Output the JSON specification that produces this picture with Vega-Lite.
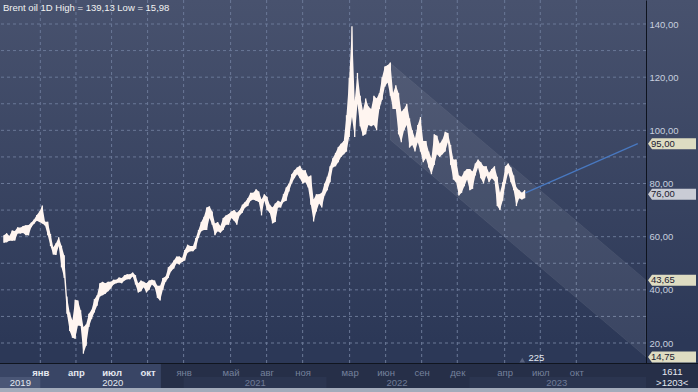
{
"$schema":"https://vega.github.io/schema/vega-lite/v6.json",
"width":646,"height":363,
"autosize":{"type":"none"},
"padding":{"left":0,"top":0,"right":52,"bottom":29},
"background":"#262f48",
"config":{"view":{"stroke":null},"font":"Liberation Sans","text":{"font":"Liberation Sans"}},
"datasets":{
"bg":[{"d1":"2019-09-10","d2":"2024-08-15","v1":12.48,"v2":149.03}],
"strip":[
{"d1":"2019-09-10","d2":"2020-11-04","v1":12.48,"v2":3.07,"k":"hl"},
{"d1":"2019-09-10","d2":"2020-01-01","v1":7.21,"v2":3.07,"k":"y1"},
{"d1":"2021-01-01","d2":"2022-01-01","v1":7.21,"v2":3.07,"k":"y2"},
{"d1":"2023-01-01","d2":"2024-03-27","v1":7.21,"v2":3.07,"k":"y2"},
{"d1":"2019-09-10","d2":"2024-08-15","v1":3.07,"v2":1.0,"k":"bd"},
{"d1":"2019-09-10","d2":"2024-08-15","v1":12.48,"v2":12.1,"k":"ln"}],
"gx":[{"d":"2020-01-01"},{"d":"2020-04-01"},{"d":"2020-07-01"},{"d":"2020-10-01"},{"d":"2021-01-01"},{"d":"2021-05-01"},{"d":"2021-08-01"},{"d":"2021-11-01"},{"d":"2022-03-01"},{"d":"2022-06-01"},{"d":"2022-09-01"},{"d":"2022-12-01"},{"d":"2023-04-01"},{"d":"2023-07-01"},{"d":"2023-10-01"}],
"gy":[{"v":20},{"v":30},{"v":40},{"v":50},{"v":60},{"v":70},{"v":80},{"v":90},{"v":100},{"v":110},{"v":120},{"v":130},{"v":140}],
"ch":[{"d":"2022-06-13","up":125.3,"dn":96.4},{"d":"2024-03-27","up":43.65,"dn":14.75}],
"proj":[{"d":"2023-05-24","v":76.5},{"d":"2024-03-06","v":95}],
"tags":[{"v":95,"lab":"95,00","k":"y"},{"v":76,"lab":"76,00","k":"g"},{"v":43.65,"lab":"43,65","k":"y"},{"v":14.75,"lab":"14,75","k":"y"}],
"title":[{"lab":"Brent oil 1D High = 139,13 Low = 15,98"}],
"lbl":[
{"d":"2019-11-11","v":4.96,"lab":"2019","k":"w"},
{"d":"2020-07-04","v":4.96,"lab":"2020","k":"w"},
{"d":"2021-07-03","v":4.96,"lab":"2021","k":"g"},
{"d":"2022-06-30","v":4.96,"lab":"2022","k":"g"},
{"d":"2023-08-12","v":4.96,"lab":"2023","k":"g"},
{"d":"2023-06-21","v":14.3,"lab":"225","k":"w"},
{"d":"2024-06-02","v":9.09,"lab":"1611","k":"w"},
{"d":"2024-06-02","v":4.96,"lab":">1203<","k":"w"}],
"tri":[{"d":"2023-05-16","v":13.6}],
"px":[
{"d":"2019-09-30","lo":57.7,"hi":60.5},{"d":"2019-10-07","lo":57.9,"hi":61.3},{"d":"2019-10-14","lo":58.5,"hi":60.3},{"d":"2019-10-21","lo":58.5,"hi":62.3},{"d":"2019-10-28","lo":58.6,"hi":62.1},{"d":"2019-11-04","lo":61.2,"hi":63.5},{"d":"2019-11-11","lo":61.2,"hi":63.4},{"d":"2019-11-18","lo":61.4,"hi":64.0},{"d":"2019-11-25","lo":60.5,"hi":64.3},{"d":"2019-12-02","lo":60.5,"hi":64.4},{"d":"2019-12-09","lo":63.5,"hi":65.3},{"d":"2019-12-16","lo":64.9,"hi":66.5},{"d":"2019-12-23","lo":66.0,"hi":68.2},{"d":"2019-12-30","lo":65.5,"hi":69.5},
{"d":"2020-01-06","lo":65.0,"hi":71.75},{"d":"2020-01-13","lo":64.2,"hi":65.6},{"d":"2020-01-20","lo":60.5,"hi":65.6},{"d":"2020-01-27","lo":56.5,"hi":61.0},{"d":"2020-02-03","lo":53.3,"hi":56.0},{"d":"2020-02-10","lo":53.1,"hi":57.5},{"d":"2020-02-17","lo":56.5,"hi":59.8},{"d":"2020-02-24","lo":48.5,"hi":56.6},{"d":"2020-03-02","lo":44.5,"hi":53.0},{"d":"2020-03-09","lo":31.0,"hi":37.5},{"d":"2020-03-16","lo":24.5,"hi":31.5},{"d":"2020-03-23","lo":22.0,"hi":28.5},{"d":"2020-03-30","lo":21.6,"hi":36.3},{"d":"2020-04-06","lo":26.6,"hi":36.0},{"d":"2020-04-13","lo":26.4,"hi":32.3},{"d":"2020-04-20","lo":15.98,"hi":26.0},{"d":"2020-04-27","lo":19.0,"hi":27.0},{"d":"2020-05-04","lo":26.0,"hi":31.0},{"d":"2020-05-11","lo":29.0,"hi":32.5},{"d":"2020-05-18","lo":31.5,"hi":36.5},{"d":"2020-05-25","lo":34.0,"hi":38.0},{"d":"2020-06-01","lo":37.5,"hi":42.5},{"d":"2020-06-08","lo":38.0,"hi":43.0},{"d":"2020-06-15","lo":38.5,"hi":42.5},{"d":"2020-06-22","lo":39.5,"hi":43.0},{"d":"2020-06-29","lo":40.5,"hi":43.0},{"d":"2020-07-06","lo":42.0,"hi":43.8},{"d":"2020-07-13","lo":42.5,"hi":43.8},{"d":"2020-07-20","lo":42.8,"hi":44.6},{"d":"2020-07-27","lo":42.5,"hi":44.5},{"d":"2020-08-03","lo":43.5,"hi":45.5},{"d":"2020-08-10","lo":44.0,"hi":45.9},{"d":"2020-08-17","lo":44.0,"hi":45.9},{"d":"2020-08-24","lo":45.0,"hi":46.5},{"d":"2020-08-31","lo":42.0,"hi":45.5},{"d":"2020-09-07","lo":39.0,"hi":42.5},{"d":"2020-09-14","lo":39.5,"hi":43.5},{"d":"2020-09-21","lo":41.0,"hi":43.0},{"d":"2020-09-28","lo":39.0,"hi":42.5},{"d":"2020-10-05","lo":40.0,"hi":43.5},{"d":"2020-10-12","lo":42.0,"hi":43.8},{"d":"2020-10-19","lo":41.0,"hi":43.5},{"d":"2020-10-26","lo":37.0,"hi":41.5},{"d":"2020-11-02","lo":36.0,"hi":41.5},{"d":"2020-11-09","lo":40.0,"hi":44.5},{"d":"2020-11-16","lo":43.0,"hi":45.0},{"d":"2020-11-23","lo":44.5,"hi":48.5},{"d":"2020-11-30","lo":47.0,"hi":49.5},{"d":"2020-12-07","lo":48.0,"hi":51.0},{"d":"2020-12-14","lo":50.0,"hi":52.5},{"d":"2020-12-21","lo":49.5,"hi":52.5},{"d":"2020-12-28","lo":50.5,"hi":52.0},
{"d":"2021-01-04","lo":51.0,"hi":55.0},{"d":"2021-01-11","lo":54.0,"hi":57.0},{"d":"2021-01-18","lo":54.5,"hi":56.5},{"d":"2021-01-25","lo":54.5,"hi":56.5},{"d":"2021-02-01","lo":55.5,"hi":59.5},{"d":"2021-02-08","lo":59.5,"hi":62.5},{"d":"2021-02-15","lo":62.0,"hi":65.5},{"d":"2021-02-22","lo":62.5,"hi":67.5},{"d":"2021-03-01","lo":62.5,"hi":71.0},{"d":"2021-03-08","lo":67.0,"hi":71.4},{"d":"2021-03-15","lo":64.5,"hi":69.5},{"d":"2021-03-22","lo":60.5,"hi":65.0},{"d":"2021-03-29","lo":62.0,"hi":65.5},{"d":"2021-04-05","lo":61.5,"hi":64.0},{"d":"2021-04-12","lo":62.5,"hi":67.0},{"d":"2021-04-19","lo":64.5,"hi":68.0},{"d":"2021-04-26","lo":64.5,"hi":68.5},{"d":"2021-05-03","lo":67.0,"hi":69.5},{"d":"2021-05-10","lo":66.0,"hi":70.0},{"d":"2021-05-17","lo":64.5,"hi":69.0},{"d":"2021-05-24","lo":68.0,"hi":70.0},{"d":"2021-05-31","lo":69.0,"hi":72.0},{"d":"2021-06-07","lo":71.0,"hi":73.0},{"d":"2021-06-14","lo":71.5,"hi":74.5},{"d":"2021-06-21","lo":73.5,"hi":76.5},{"d":"2021-06-28","lo":74.0,"hi":76.5},{"d":"2021-07-05","lo":73.5,"hi":77.8},{"d":"2021-07-12","lo":73.0,"hi":77.0},{"d":"2021-07-19","lo":68.0,"hi":74.0},{"d":"2021-07-26","lo":73.5,"hi":76.0},{"d":"2021-08-02","lo":70.0,"hi":75.0},{"d":"2021-08-09","lo":69.0,"hi":72.0},{"d":"2021-08-16","lo":65.0,"hi":71.0},{"d":"2021-08-23","lo":65.5,"hi":72.5},{"d":"2021-08-30","lo":71.0,"hi":73.5},{"d":"2021-09-06","lo":71.0,"hi":73.0},{"d":"2021-09-13","lo":73.0,"hi":76.0},{"d":"2021-09-20","lo":73.5,"hi":78.5},{"d":"2021-09-27","lo":77.0,"hi":80.0},{"d":"2021-10-04","lo":80.0,"hi":83.5},{"d":"2021-10-11","lo":82.0,"hi":85.0},{"d":"2021-10-18","lo":83.5,"hi":86.0},{"d":"2021-10-25","lo":82.0,"hi":86.7},{"d":"2021-11-01","lo":80.0,"hi":85.0},{"d":"2021-11-08","lo":80.5,"hi":85.0},{"d":"2021-11-15","lo":78.5,"hi":82.5},{"d":"2021-11-22","lo":72.0,"hi":83.0},{"d":"2021-11-29","lo":65.7,"hi":74.0},{"d":"2021-12-06","lo":69.5,"hi":76.0},{"d":"2021-12-13","lo":72.5,"hi":76.0},{"d":"2021-12-20","lo":71.0,"hi":76.5},{"d":"2021-12-27","lo":75.5,"hi":80.0},
{"d":"2022-01-03","lo":77.5,"hi":82.5},{"d":"2022-01-10","lo":80.5,"hi":86.5},{"d":"2022-01-17","lo":86.0,"hi":89.5},{"d":"2022-01-24","lo":86.5,"hi":91.5},{"d":"2022-01-31","lo":88.0,"hi":93.7},{"d":"2022-02-07","lo":90.0,"hi":95.0},{"d":"2022-02-14","lo":91.0,"hi":96.0},{"d":"2022-02-21","lo":92.0,"hi":105.7},{"d":"2022-02-28","lo":97.5,"hi":119.8},{"d":"2022-03-07","lo":105.0,"hi":139.13},{"d":"2022-03-14","lo":97.5,"hi":111.0},{"d":"2022-03-21","lo":110.0,"hi":121.6},{"d":"2022-03-28","lo":101.5,"hi":113.0},{"d":"2022-04-04","lo":98.0,"hi":107.5},{"d":"2022-04-11","lo":98.5,"hi":112.0},{"d":"2022-04-18","lo":102.0,"hi":109.0},{"d":"2022-04-25","lo":101.5,"hi":108.0},{"d":"2022-05-02","lo":102.0,"hi":113.0},{"d":"2022-05-09","lo":100.0,"hi":112.0},{"d":"2022-05-16","lo":108.0,"hi":114.0},{"d":"2022-05-23","lo":111.5,"hi":120.0},{"d":"2022-05-30","lo":116.5,"hi":124.0},{"d":"2022-06-06","lo":118.0,"hi":124.5},{"d":"2022-06-13","lo":113.0,"hi":125.5},{"d":"2022-06-20","lo":108.0,"hi":114.0},{"d":"2022-06-27","lo":108.0,"hi":117.0},{"d":"2022-07-04","lo":98.5,"hi":114.0},{"d":"2022-07-11","lo":95.5,"hi":107.0},{"d":"2022-07-18","lo":100.0,"hi":108.0},{"d":"2022-07-25","lo":102.0,"hi":110.0},{"d":"2022-08-01","lo":93.5,"hi":104.5},{"d":"2022-08-08","lo":94.5,"hi":100.0},{"d":"2022-08-15","lo":92.0,"hi":97.0},{"d":"2022-08-22","lo":95.5,"hi":102.0},{"d":"2022-08-29","lo":92.0,"hi":105.0},{"d":"2022-09-05","lo":88.0,"hi":96.0},{"d":"2022-09-12","lo":89.5,"hi":96.0},{"d":"2022-09-19","lo":86.0,"hi":92.0},{"d":"2022-09-26","lo":83.5,"hi":89.5},{"d":"2022-10-03","lo":87.0,"hi":98.5},{"d":"2022-10-10","lo":91.0,"hi":98.0},{"d":"2022-10-17","lo":90.0,"hi":95.0},{"d":"2022-10-24","lo":91.0,"hi":96.5},{"d":"2022-10-31","lo":92.0,"hi":99.5},{"d":"2022-11-07","lo":95.5,"hi":99.0},{"d":"2022-11-14","lo":87.0,"hi":94.5},{"d":"2022-11-21","lo":81.5,"hi":89.0},{"d":"2022-11-28","lo":80.5,"hi":89.0},{"d":"2022-12-05","lo":75.5,"hi":83.0},{"d":"2022-12-12","lo":76.5,"hi":82.5},{"d":"2022-12-19","lo":79.0,"hi":84.5},{"d":"2022-12-26","lo":81.5,"hi":85.5},
{"d":"2023-01-02","lo":77.5,"hi":85.5},{"d":"2023-01-09","lo":78.0,"hi":84.5},{"d":"2023-01-16","lo":83.0,"hi":87.5},{"d":"2023-01-23","lo":86.0,"hi":89.0},{"d":"2023-01-30","lo":82.0,"hi":88.0},{"d":"2023-02-06","lo":80.0,"hi":86.5},{"d":"2023-02-13","lo":83.0,"hi":86.5},{"d":"2023-02-20","lo":80.5,"hi":84.0},{"d":"2023-02-27","lo":82.0,"hi":85.5},{"d":"2023-03-06","lo":81.0,"hi":86.5},{"d":"2023-03-13","lo":71.5,"hi":82.5},{"d":"2023-03-20","lo":70.0,"hi":76.5},{"d":"2023-03-27","lo":73.5,"hi":80.5},{"d":"2023-04-03","lo":80.0,"hi":86.5},{"d":"2023-04-10","lo":84.0,"hi":87.5},{"d":"2023-04-17","lo":80.5,"hi":86.0},{"d":"2023-04-24","lo":77.5,"hi":83.0},{"d":"2023-05-01","lo":71.5,"hi":78.5},{"d":"2023-05-08","lo":74.5,"hi":77.5},{"d":"2023-05-15","lo":74.0,"hi":76.5},{"d":"2023-05-22","lo":74.5,"hi":77.5}]
},
"resolve":{"scale":{"color":"independent"}},
"layer":[
{"data":{"name":"bg"},
 "mark":{"type":"rect","clip":false,"fill":{"gradient":"linear","x1":0,"y1":0,"x2":0,"y2":1,"stops":[{"offset":0,"color":"#48526e"},{"offset":0.94,"color":"#2c3857"},{"offset":1,"color":"#2c3857"}]}},
 "encoding":{
  "x":{"field":"d1","type":"temporal","title":null,"scale":{"type":"utc","nice":false,
    "domain":[{"year":2019,"month":9,"date":20,"utc":true},{"year":2024,"month":3,"date":27,"utc":true}]}},
  "x2":{"field":"d2"},
  "y":{"field":"v1","type":"quantitative","title":null,"scale":{"domain":[12.48,149.03],"nice":false,"zero":false}},
  "y2":{"field":"v2"}}},
{"data":{"name":"strip"},
 "mark":{"type":"rect","clip":false},
 "encoding":{
  "x":{"field":"d1","type":"temporal","title":null},
  "x2":{"field":"d2"},
  "y":{"field":"v1","type":"quantitative","title":null},
  "y2":{"field":"v2"},
  "color":{"field":"k","type":"nominal","legend":null,"scale":{"domain":["hl","y1","y2","bd","ln"],"range":["#394565","#4a5676","#2b3550","#a3abbb","#10151f"]}}}},
{"data":{"name":"gx"},
 "mark":{"type":"rule","color":"#6a7897","strokeWidth":1,"strokeDash":[3,3]},
 "encoding":{"x":{"field":"d","type":"temporal","title":null}}},
{"data":{"name":"gy"},
 "mark":{"type":"rule","color":"#6a7897","strokeWidth":1,"strokeDash":[3,3]},
 "encoding":{"y":{"field":"v","type":"quantitative","title":null}}},
{"data":{"name":"ch"},
 "mark":{"type":"area","fill":"#ffffff","fillOpacity":0.075,"stroke":"#ffffff","strokeOpacity":0.06,"strokeWidth":1,"clip":true},
 "encoding":{"x":{"field":"d","type":"temporal","title":null},"y":{"field":"up","type":"quantitative","title":null},"y2":{"field":"dn"}}},
{"data":{"name":"px"},
 "mark":{"type":"area","color":"#fff5f0","opacity":1,"clip":true},
 "encoding":{"x":{"field":"d","type":"temporal","title":null},"y":{"field":"lo","type":"quantitative","title":null},"y2":{"field":"hi"}}},
{"data":{"name":"px"},
 "mark":{"type":"rule","color":"#fff5f0","strokeWidth":1.3,"clip":true},
 "encoding":{
  "x":{"field":"d","type":"temporal","title":null,"axis":{"title":null,"orient":"bottom","zindex":1,"grid":false,"ticks":false,"tickSize":0,"domain":false,"labelPadding":9,"labelBaseline":"middle","labelFontSize":9.5,"labelFont":"Liberation Sans","labelOverlap":false,"labelFlush":false,
    "values":[{"year":2020,"month":1,"date":1,"utc":true},{"year":2020,"month":4,"date":1,"utc":true},{"year":2020,"month":7,"date":1,"utc":true},{"year":2020,"month":10,"date":1,"utc":true},{"year":2021,"month":1,"date":1,"utc":true},{"year":2021,"month":5,"date":1,"utc":true},{"year":2021,"month":8,"date":1,"utc":true},{"year":2021,"month":11,"date":1,"utc":true},{"year":2022,"month":3,"date":1,"utc":true},{"year":2022,"month":6,"date":1,"utc":true},{"year":2022,"month":9,"date":1,"utc":true},{"year":2022,"month":12,"date":1,"utc":true},{"year":2023,"month":4,"date":1,"utc":true},{"year":2023,"month":7,"date":1,"utc":true},{"year":2023,"month":10,"date":1,"utc":true}],
    "labelExpr":"['янв','фев','мар','апр','май','июн','июл','авг','сен','окт','ноя','дек'][utcmonth(datum.value)]",
    "labelColor":{"condition":{"test":"utcyear(datum.value) < 2021","value":"#e4e8f0"},"value":"#75819c"},
    "labelFontWeight":{"condition":{"test":"utcyear(datum.value) < 2021","value":"bold"},"value":"normal"}}},
  "y":{"field":"lo","type":"quantitative","title":null,"axis":{"title":null,"orient":"right","zindex":1,"grid":false,"ticks":false,"tickSize":0,"domain":true,"domainColor":"#0e131e","domainWidth":1,"labelPadding":3,"labelAlign":"left","labelBaseline":"middle","labelFontSize":9.5,"labelFont":"Liberation Sans","labelColor":"#c8cfdf","labelOverlap":false,"labelFlush":false,
    "values":[20,30,40,50,60,70,80,90,100,110,120,130,140],
    "labelExpr":"replace(format(datum.value, '.2f'), '.', ',')"}},
  "y2":{"field":"hi"}}},
{"mark":{"type":"rule","color":"#ffffff","strokeWidth":1.4},
 "encoding":{"y":{"datum":95,"type":"quantitative"}}},
{"data":{"name":"proj"},
 "mark":{"type":"line","color":"#4878c0","strokeWidth":1.3},
 "encoding":{"x":{"field":"d","type":"temporal","title":null},"y":{"field":"v","type":"quantitative","title":null}}},
{"data":{"name":"tags"},
 "mark":{"type":"point","filled":true,"opacity":1,"strokeWidth":0,"size":2500,"clip":false,"shape":"M0.08,0L0.24,-0.22L2,-0.22L2,0.22L0.24,0.22Z"},
 "encoding":{"x":{"datum":{"year":2024,"month":3,"date":27,"utc":true},"type":"temporal"},
  "y":{"field":"v","type":"quantitative","title":null},
  "fill":{"condition":{"test":"datum.k == 'g'","value":"#c9ccd5"},"value":"#dedcc2"}}},
{"data":{"name":"tags"},
 "mark":{"type":"text","align":"left","baseline":"middle","dx":5,"fontSize":9.5,"color":"#1b2030","clip":false},
 "encoding":{"x":{"datum":{"year":2024,"month":3,"date":27,"utc":true},"type":"temporal"},
  "y":{"field":"v","type":"quantitative","title":null},"text":{"field":"lab"}}},
{"data":{"name":"tri"},
 "mark":{"type":"point","shape":"triangle-up","filled":true,"size":30,"opacity":1,"color":"#59637f","clip":false},
 "encoding":{"x":{"field":"d","type":"temporal","title":null},"y":{"field":"v","type":"quantitative","title":null}}},
{"data":{"name":"lbl"},
 "mark":{"type":"text","align":"center","baseline":"middle","fontSize":9.5,"clip":false},
 "encoding":{"x":{"field":"d","type":"temporal","title":null},"y":{"field":"v","type":"quantitative","title":null},"text":{"field":"lab"},
  "color":{"condition":{"test":"datum.k == 'g'","value":"#6f7b97"},"value":"#e4e8f0"}}},
{"data":{"name":"title"},
 "mark":{"type":"text","align":"left","baseline":"middle","dx":3,"fontSize":9.5,"color":"#f2f2f2","clip":false},
 "encoding":{"x":{"datum":{"year":2019,"month":9,"date":20,"utc":true},"type":"temporal"},
  "y":{"datum":146,"type":"quantitative"},"text":{"field":"lab"}}}
]
}
